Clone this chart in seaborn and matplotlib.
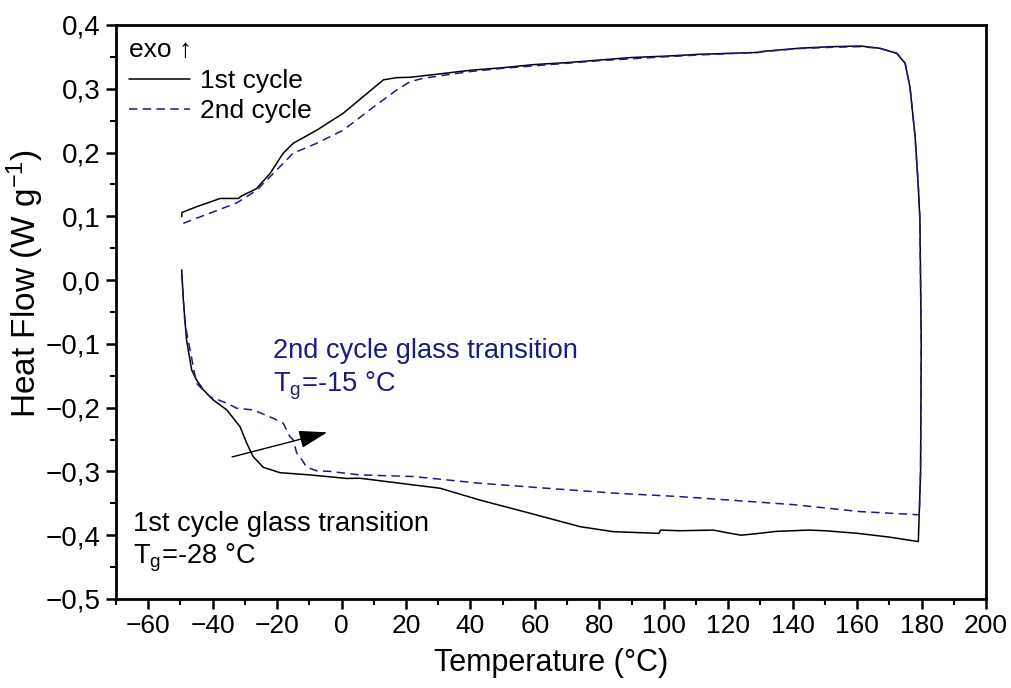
import seaborn as sns
import matplotlib.pyplot as plt
from matplotlib.ticker import MultipleLocator, FuncFormatter
from matplotlib.lines import Line2D
import pandas as pd

# DSC loop: heating branch, jump at 180 °C, cooling branch
t1 = [-49.6, -49.5, -45.0, -41.0, -37.7, -32.0, -31.0, -26.5, -22.2, -18.1, -15.0, -7.7,
      0.5, 6.8, 13.0, 17.1, 21.3, 30, 40, 50, 60, 70, 80, 90, 100, 111, 129.5, 130.5,
      142, 152, 161, 167, 172.3, 174.9, 176.4, 178.0, 179.0, 179.5, 179.9, 179.7, 179.0,
      170, 160, 150, 145, 135, 128, 124, 120.6, 115.4, 105, 99, 98.5, 97.8, 84.4, 74,
      58.5, 43, 30.6, 5.7, 1.6, -9.8, -19.1, -24.3, -27.4, -29.4, -31.5, -35.6, -39.8,
      -42.9, -45.0, -46.5, -48.1, -49.1, -49.6]
hf1 = [0.0995, 0.106, 0.115, 0.122, 0.128, 0.128, 0.132, 0.143, 0.167, 0.199, 0.2145, 0.235,
       0.2615, 0.288, 0.314, 0.3174, 0.318, 0.323, 0.329, 0.333, 0.338, 0.341, 0.345, 0.349,
       0.351, 0.354, 0.357, 0.3585, 0.3635, 0.366, 0.367, 0.3635, 0.3556, 0.34, 0.303, 0.225,
       0.1465, 0.094, -0.1, -0.3, -0.41,
       -0.403, -0.397, -0.393, -0.392, -0.394, -0.398, -0.400, -0.397, -0.392, -0.393, -0.392,
       -0.397, -0.397, -0.3945, -0.3866, -0.3656, -0.345, -0.3264, -0.3107, -0.311, -0.3055,
       -0.302, -0.2935, -0.277, -0.256, -0.23, -0.2036, -0.188, -0.172, -0.1566, -0.141,
       -0.094, -0.031, 0.016]

t2 = [-49.1, -45, -40.8, -32.5, -26.3, -20.1, -15.0, -7.7, 0.5, 8.8, 17.1, 21.3, 25, 30,
      40, 50, 60, 70, 80, 90, 100, 111, 129.5, 130.5, 142, 152, 161, 167, 172.3, 174.9,
      176.4, 178.0, 179.0, 179.5, 179.9, 179.7, 179.3,
      160.9, 140, 120.6, 105, 84.4, 63.7, 43, 22.3, 5.7, -3.6, -7.7, -10.8, -12.9, -13.9,
      -15.0, -16.0, -18.1, -21.2, -27.4, -32.5, -35.6, -40.8, -45, -48.6, -49.6]
hf2 = [0.089, 0.097, 0.105, 0.121, 0.141, 0.1727, 0.199, 0.2145, 0.235, 0.267, 0.298, 0.311,
       0.316, 0.320, 0.327, 0.332, 0.336, 0.340, 0.344, 0.347, 0.350, 0.353, 0.357, 0.358,
       0.363, 0.365, 0.366, 0.3635, 0.3556, 0.34, 0.303, 0.225, 0.1465, 0.094, -0.1, -0.3,
       -0.368,
       -0.363, -0.352, -0.345, -0.3395, -0.334, -0.3264, -0.3186, -0.308, -0.3055, -0.300,
       -0.299, -0.2935, -0.277, -0.2715, -0.2507, -0.2455, -0.2245, -0.2167, -0.2036, -0.201,
       -0.193, -0.183, -0.162, -0.068, 0.010]

cycles = ['1st cycle', '2nd cycle']
colors = {'1st cycle': 'black', '2nd cycle': '#1b1b87'}
dash_map = {'1st cycle': '', '2nd cycle': (5.5, 3.5)}

df = pd.concat([
    pd.DataFrame({'T': t1, 'HF': hf1, 'cycle': cycles[0]}),
    pd.DataFrame({'T': t2, 'HF': hf2, 'cycle': cycles[1]}),
], ignore_index=True)

sns.set_theme(style='ticks')
plt.rcParams['font.family'] = ['Liberation Sans', 'DejaVu Sans']
plt.rcParams['mathtext.fontset'] = 'custom'
plt.rcParams['mathtext.rm'] = 'Liberation Sans'
plt.rcParams['mathtext.default'] = 'regular'
for k in ['text.color', 'axes.labelcolor', 'xtick.color', 'ytick.color', 'axes.edgecolor']:
    plt.rcParams[k] = 'black'

fig = plt.figure(figsize=(10.12, 6.88), dpi=100)
ax = fig.add_axes([0.1146, 0.1294, 0.8597, 0.8343])

sns.lineplot(data=df, x='T', y='HF', hue='cycle', style='cycle', sort=False,
             estimator=None, palette=colors, dashes=dash_map, linewidth=1.1,
             legend=False, ax=ax)

ax.set_xlim(-70, 200)
ax.set_ylim(-0.5, 0.4)
ax.xaxis.set_major_locator(MultipleLocator(20))
ax.xaxis.set_minor_locator(MultipleLocator(10))
ax.yaxis.set_major_locator(MultipleLocator(0.1))
ax.yaxis.set_minor_locator(MultipleLocator(0.05))


def fmt_y(v, p):
    if abs(v) < 1e-9:
        v = 0.0
    return f"{v:.1f}".replace('.', ',').replace('-', '\u2212')


def fmt_x(v, p):
    return f"{v:.0f}".replace('-', '\u2212')


ax.yaxis.set_major_formatter(FuncFormatter(fmt_y))
ax.xaxis.set_major_formatter(FuncFormatter(fmt_x))

for s in ax.spines.values():
    s.set_linewidth(2.0)
ax.tick_params(which='major', direction='out', length=7, width=1.8,
               top=False, right=False, pad=4)
ax.tick_params(axis='y', labelsize=20)
ax.tick_params(axis='x', labelsize=19)
ax.tick_params(which='minor', direction='out', length=4, width=1.5,
               top=False, right=False)

ax.set_xlabel('Temperature (°C)', fontsize=22, labelpad=7)
ax.set_ylabel('Heat Flow (W g$^{-1}$)', fontsize=24)
ax.yaxis.set_label_coords(-0.081, 0.55)

# legend with the exo marker as its title
handles = [Line2D([], [], color=colors[c], lw=1.1, dashes=dash_map[c] or (None, None))
           for c in cycles]
handles[0].set_linestyle('-')
leg = ax.legend(handles, cycles, title='exo \u2191', loc='upper left', frameon=False,
                fontsize=19, title_fontsize=19, handlelength=2.3, handletextpad=0.4,
                labelspacing=0.25, borderaxespad=0.2, borderpad=0.3, alignment='left')

# annotations
ax.text(-21.3, -0.1226, '2nd cycle glass transition', color='#1b1b87', fontsize=19.6,
        va='baseline')
ax.text(-21.3, -0.175, 'T$_g$=-15 °C', color='#1b1b87', fontsize=19.6, va='baseline')
ax.text(-64.7, -0.393, '1st cycle glass transition', color='black', fontsize=19.6,
        va='baseline')
ax.text(-64.7, -0.445, 'T$_g$=-28 °C', color='black', fontsize=19.6, va='baseline')
ax.annotate('', xy=(-3.6, -0.2376), xytext=(-34.8, -0.2784),
            arrowprops=dict(arrowstyle='-|>,head_length=0.8,head_width=0.25',
                            color='black', lw=1.0, mutation_scale=22))

fig.savefig('out.png', dpi=100)
